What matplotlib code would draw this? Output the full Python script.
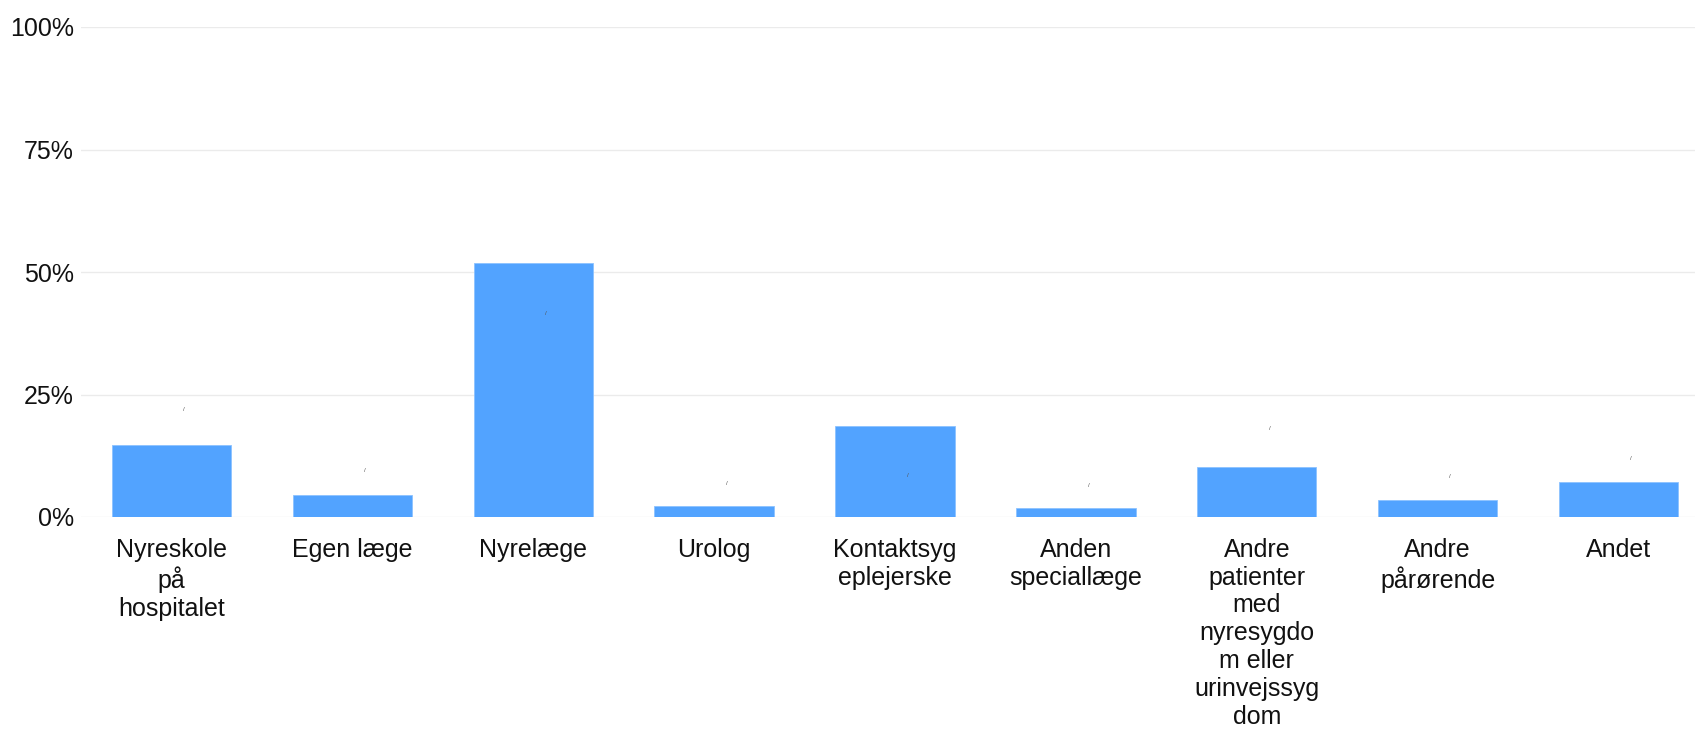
import matplotlib
matplotlib.use("Agg")
import matplotlib.pyplot as plt
from matplotlib.ticker import FuncFormatter

categories = [
    "Nyreskole\npå\nhospitalet",
    "Egen læge",
    "Nyrelæge",
    "Urolog",
    "Kontaktsyg\neplejerske",
    "Anden\nspeciallæge",
    "Andre\npatienter\nmed\nnyresygdo\nm eller\nurinvejssyg\ndom",
    "Andre\npårørende",
    "Andet",
]
values = [14.6, 4.5, 51.9, 2.2, 18.6, 1.8, 10.3, 3.5, 7.1]
# tiny (nearly invisible) value annotations seen in the chart
mark_values = [21.9, 9.4, 41.6, 6.9, 8.4, 6.5, 18.0, 8.2, 12.0]
yticks = [0, 25, 50, 75, 100]

plt.rcParams['font.family'] = ['Liberation Sans', 'DejaVu Sans']

fig = plt.figure(figsize=(16.95, 7.29), dpi=100)
W, H = 1695, 729
ax = fig.add_axes([81 / W, (H - 517) / H, 1628 / W, (517 - 27) / H])

x = list(range(len(categories)))
ax.bar(x, values, width=0.66, color="#52a3ff", edgecolor="#8cc2ff", linewidth=0.6, zorder=3)
for xi, mv in zip(x, mark_values):
    ax.text(xi + 0.07, mv, "/", fontsize=4.5, color="#555555", ha="center", va="center", zorder=4)

ax.set_xlim(-0.5, len(categories) - 0.5)
ax.set_ylim(0, 100)
ax.set_yticks(yticks)
ax.yaxis.set_major_formatter(FuncFormatter(lambda v, p: f"{int(v)}%"))
ax.grid(axis="y", color="#ebebeb", linewidth=1.0, zorder=0)
for s in ax.spines.values():
    s.set_visible(False)
ax.tick_params(axis="both", length=0, labelsize=18, colors="#111111")
ax.tick_params(axis="y", pad=5)
ax.tick_params(axis="x", pad=15)
ax.set_xticks(x)
ax.set_xticklabels(categories, linespacing=1.2, ha="center", va="top")

fig.savefig("out.png", dpi=100, facecolor="white")
